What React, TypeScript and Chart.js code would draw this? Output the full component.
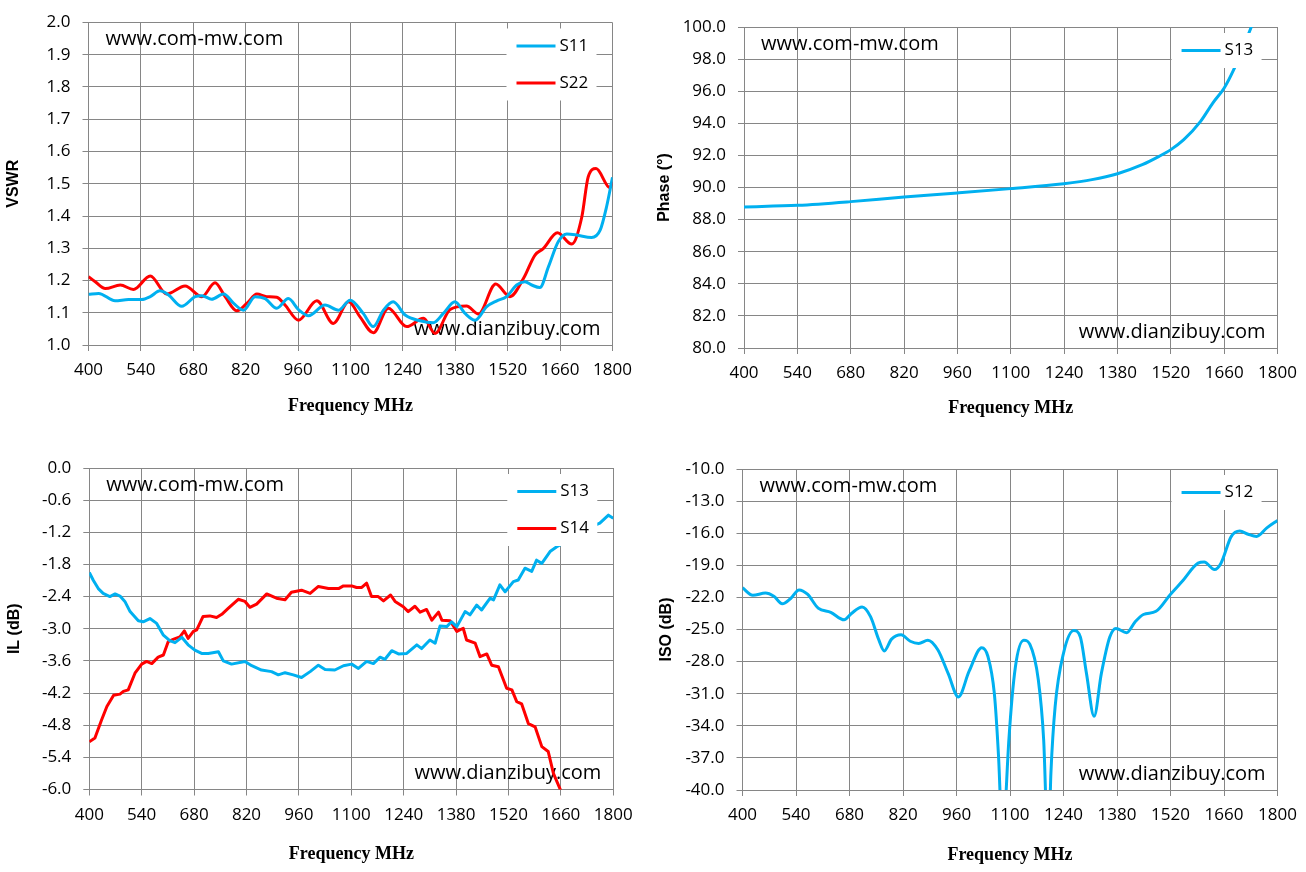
import React, { useEffect, useRef } from 'react';
import { Chart, registerables } from 'chart.js';

Chart.register(...registerables);
Chart.defaults.color = '#000';
Chart.defaults.font.family = "'Open Sans', sans-serif";

// ---- data (MHz / value) ----
const freqTicks = [400, 540, 680, 820, 960, 1100, 1240, 1380, 1520, 1660, 1800];

const vswrTicks = [1.0, 1.1, 1.2, 1.3, 1.4, 1.5, 1.6, 1.7, 1.8, 1.9, 2.0];
const phaseTicks = [80, 82, 84, 86, 88, 90, 92, 94, 96, 98, 100];
const ilTicks = [-6.0, -5.4, -4.8, -4.2, -3.6, -3.0, -2.4, -1.8, -1.2, -0.6, 0.0];
const isoTicks = [-40, -37, -34, -31, -28, -25, -22, -19, -16, -13, -10];

// VSWR S11
const s11Freq = [400, 427, 471, 507, 542, 565, 591, 614, 649, 685, 703, 729, 761, 788, 814, 845, 872, 903, 934, 961,
  988, 1032, 1068, 1099, 1134, 1161, 1188, 1214, 1246, 1286, 1321, 1348, 1379, 1406, 1433, 1464, 1491, 1517, 1544, 1566,
  1584, 1606, 1629, 1655, 1678, 1704, 1744, 1767, 1784, 1800];
const s11Vswr = [1.157, 1.16, 1.137, 1.141, 1.141, 1.15, 1.168, 1.155, 1.12, 1.15, 1.153, 1.142, 1.158, 1.129, 1.108, 1.15, 1.144, 1.114, 1.144, 1.11,
  1.091, 1.124, 1.108, 1.139, 1.098, 1.057, 1.108, 1.134, 1.093, 1.075, 1.069, 1.098, 1.134, 1.098, 1.077, 1.119, 1.137, 1.15, 1.186, 1.196,
  1.186, 1.178, 1.243, 1.32, 1.344, 1.341, 1.333, 1.356, 1.428, 1.52];

// VSWR S22
const s22Freq = [400, 418, 445, 485, 520, 565, 609, 658, 703, 738, 765, 796, 823, 850, 876, 903, 925, 961, 1010, 1054,
  1095, 1125, 1161, 1201, 1250, 1295, 1326, 1366, 1410, 1442, 1488, 1526, 1562, 1593, 1615, 1653, 1691, 1718, 1735, 1756,
  1793, 1800];
const s22Vswr = [1.212, 1.196, 1.175, 1.186, 1.172, 1.214, 1.158, 1.183, 1.15, 1.193, 1.15, 1.106, 1.129, 1.158, 1.15, 1.148, 1.124, 1.077, 1.137, 1.067,
  1.134, 1.088, 1.038, 1.114, 1.057, 1.083, 1.036, 1.11, 1.121, 1.096, 1.189, 1.15, 1.206, 1.279, 1.299, 1.348, 1.313, 1.397, 1.521, 1.547,
  1.488, 1.506];

// Phase S13
const phaseFreq = [400, 541, 680, 820, 960, 1100, 1239, 1313, 1380, 1445, 1489, 1520, 1554, 1598, 1630, 1660, 1685, 1707, 1729, 1750];
const phaseS13 = [88.79, 88.89, 89.12, 89.41, 89.66, 89.93, 90.24, 90.49, 90.86, 91.42, 91.94, 92.36, 92.98, 94.12, 95.26, 96.2, 97.34, 98.59, 99.88, 101.2];

// IL S13
const ilS13Freq = [400, 411, 424, 437, 455, 469, 482, 495, 509, 531,
  544, 562, 580, 598, 615, 629, 647, 664, 682, 700,
  718, 745, 758, 780, 816, 834, 860, 887, 905, 923,
  945, 967, 990, 1012, 1030, 1056, 1079, 1101, 1119, 1141,
  1159, 1177, 1190, 1208, 1226, 1248, 1275, 1288, 1310, 1324,
  1337, 1355, 1368, 1382, 1404, 1417, 1435, 1448, 1471, 1480,
  1497, 1511, 1533, 1546, 1564, 1582, 1595, 1609, 1631, 1649,
  1680, 1710, 1740, 1764, 1787, 1800];
const ilS13 = [-1.95, -2.10, -2.25, -2.34, -2.40, -2.35, -2.39, -2.49, -2.68, -2.85,
  -2.87, -2.81, -2.90, -3.12, -3.22, -3.26, -3.16, -3.30, -3.40, -3.46,
  -3.46, -3.43, -3.60, -3.66, -3.61, -3.69, -3.77, -3.80, -3.86, -3.82,
  -3.86, -3.91, -3.80, -3.68, -3.76, -3.77, -3.69, -3.66, -3.74, -3.61,
  -3.65, -3.53, -3.57, -3.41, -3.47, -3.46, -3.30, -3.37, -3.21, -3.27,
  -2.95, -2.96, -2.87, -2.96, -2.68, -2.74, -2.56, -2.65, -2.43, -2.46,
  -2.18, -2.31, -2.12, -2.09, -1.87, -1.93, -1.72, -1.78, -1.56, -1.47,
  -1.35, -1.22, -1.10, -1.03, -0.88, -0.94];

// IL S14
const ilS14Freq = [400, 415, 433, 447, 465, 482, 491, 504, 522, 540,
  553, 567, 584, 598, 611, 624, 642, 654, 664, 678,
  687, 704, 722, 740, 754, 771, 798, 816, 829, 847,
  874, 900, 923, 940, 967, 990, 1012, 1039, 1066, 1079,
  1101, 1114, 1128, 1141, 1154, 1172, 1186, 1205, 1217, 1239,
  1252, 1270, 1284, 1301, 1315, 1333, 1342, 1364, 1382, 1399,
  1408, 1431, 1444, 1462, 1475, 1493, 1515, 1529, 1542, 1555,
  1573, 1591, 1609, 1626, 1640, 1659, 1668];
const ilS14 = [-5.11, -5.04, -4.70, -4.45, -4.24, -4.22, -4.17, -4.14, -3.83, -3.66,
  -3.61, -3.65, -3.53, -3.49, -3.24, -3.20, -3.15, -3.04, -3.18, -3.05,
  -3.02, -2.77, -2.76, -2.79, -2.73, -2.62, -2.45, -2.49, -2.60, -2.54,
  -2.35, -2.43, -2.46, -2.32, -2.28, -2.34, -2.21, -2.25, -2.25, -2.20,
  -2.20, -2.23, -2.23, -2.15, -2.40, -2.40, -2.48, -2.37, -2.49, -2.59,
  -2.68, -2.58, -2.69, -2.64, -2.84, -2.69, -2.84, -2.85, -3.05, -2.99,
  -3.21, -3.27, -3.52, -3.47, -3.68, -3.71, -4.11, -4.14, -4.36, -4.40,
  -4.77, -4.83, -5.20, -5.29, -5.70, -6.01, -6.30];

// ISO S12
const isoFreq = [400, 427, 460, 482, 504, 526, 548, 570, 598, 631,
  666, 685, 713, 735, 757, 771, 790, 815, 839, 861,
  885, 911, 938, 965, 993, 1026, 1042, 1059, 1070, 1082,
  1090, 1097, 1114, 1136, 1152, 1174, 1188, 1200, 1207, 1218,
  1240, 1267, 1284, 1300, 1320, 1339, 1361, 1377, 1405, 1427,
  1449, 1482, 1520, 1553, 1592, 1608, 1635, 1652, 1679, 1701,
  1723, 1745, 1772, 1800];
const isoS12 = [-21.1, -21.8, -21.6, -21.9, -22.6, -22.1, -21.3, -21.7, -23.0, -23.4,
  -24.1, -23.5, -22.9, -23.8, -26.0, -27.0, -25.9, -25.5, -26.1, -26.3,
  -26.0, -26.9, -29.1, -31.3, -28.9, -26.7, -27.5, -31.0, -36.9, -46.0,
  -40.0, -35.3, -28.5, -26.0, -26.4, -29.7, -35.3, -46.0, -38.4, -32.2,
  -27.2, -25.1, -25.7, -29.1, -33.1, -29.1, -25.7, -24.9, -25.3, -24.3,
  -23.6, -23.3, -21.7, -20.4, -18.8, -18.7, -19.4, -18.8, -16.3, -15.8,
  -16.1, -16.3, -15.5, -14.8];

const BLUE = '#00B0F0';
const RED = '#FF0000';
const GRID = '#868686';
const PANEL_W = 653;
const PANEL_H = 436;

interface Series { label: string; color: string; freq: number[]; values: number[]; smooth: boolean }
interface PanelSpec {
  left: number; top: number;
  area: { left: number; top: number; right: number; bottom: number };
  yTicks: number[]; yTitle: string; yTitleX: number; xTitleY: number;
  series: Series[];
}

const panels: PanelSpec[] = [
  {
    left: 0, top: 0, area: { left: 88.5, top: 22.5, right: 612.5, bottom: 345 },
    yTicks: vswrTicks, yTitle: 'VSWR', yTitleX: 14, xTitleY: 406,
    series: [
      { label: 'S11', color: BLUE, freq: s11Freq, values: s11Vswr, smooth: true },
      { label: 'S22', color: RED, freq: s22Freq, values: s22Vswr, smooth: true },
    ],
  },
  {
    left: 653, top: 0, area: { left: 91, top: 27, right: 626, bottom: 348 },
    yTicks: phaseTicks, yTitle: 'Phase (°)', yTitleX: 12, xTitleY: 408,
    series: [{ label: 'S13', color: BLUE, freq: phaseFreq, values: phaseS13, smooth: true }],
  },
  {
    left: 0, top: 436, area: { left: 89.3, top: 32, right: 613.3, bottom: 353.5 },
    yTicks: ilTicks, yTitle: 'IL (dB)', yTitleX: 15, xTitleY: 418,
    series: [
      { label: 'S13', color: BLUE, freq: ilS13Freq, values: ilS13, smooth: false },
      { label: 'S14', color: RED, freq: ilS14Freq, values: ilS14, smooth: false },
    ],
  },
  {
    left: 653, top: 436, area: { left: 89.5, top: 33, right: 625.7, bottom: 354 },
    yTicks: isoTicks, yTitle: 'ISO (dB)', yTitleX: 14, xTitleY: 419,
    series: [{ label: 'S12', color: BLUE, freq: isoFreq, values: isoS12, smooth: true }],
  },
];

const Panel = ({ spec }: { spec: PanelSpec }) => {
  const canvasRef = useRef<HTMLCanvasElement>(null);

  useEffect(() => {
    const canvas = canvasRef.current;
    if (!canvas) return;
    const { area } = spec;
    const xTitleSize = 18;
    const xScaleBottom = spec.xTitleY + (xTitleSize * 1.2) / 2;

    // watermarks under the lines, legend box on top of them
    const overlay = {
      id: 'overlay',
      beforeDatasetsDraw(chart: any) {
        const { ctx, chartArea } = chart;
        ctx.save();
        ctx.fillStyle = '#000';
        ctx.font = "20px 'Open Sans', sans-serif";
        ctx.textBaseline = 'middle';
        ctx.textAlign = 'left';
        ctx.fillText('www.com-mw.com', chartArea.left + 17, chartArea.top + 17);
        ctx.textAlign = 'right';
        ctx.fillText('www.dianzibuy.com', chartArea.right - 12, chartArea.bottom - 16);
        ctx.restore();
      },
      afterDatasetsDraw(chart: any) {
        const { ctx, chartArea } = chart;
        const n = spec.series.length;
        const boxR = chartArea.right - 16;
        const boxL = boxR - 90;
        const boxT = chartArea.top + 6;
        ctx.save();
        ctx.fillStyle = '#fff';
        ctx.fillRect(boxL, boxT, boxR - boxL, 35 + 37 * (n - 1));
        spec.series.forEach((s, i) => {
          const y = boxT + 17.5 + 37 * i;
          ctx.strokeStyle = s.color;
          ctx.lineWidth = 3;
          ctx.beginPath();
          ctx.moveTo(boxL + 10, y);
          ctx.lineTo(boxL + 49, y);
          ctx.stroke();
          ctx.fillStyle = '#000';
          ctx.font = "17px 'Open Sans', sans-serif";
          ctx.textAlign = 'left';
          ctx.textBaseline = 'middle';
          ctx.fillText(s.label, boxL + 53, y);
        });
        ctx.restore();
      },
    };

    const yMin = Math.min(...spec.yTicks);
    const yMax = Math.max(...spec.yTicks);

    const chart = new Chart(canvas, {
      type: 'line',
      data: {
        datasets: spec.series.map((s) => ({
          label: s.label,
          data: s.freq.map((f, i) => ({ x: f, y: s.values[i] })),
          borderColor: s.color,
          backgroundColor: s.color,
          borderWidth: 3,
          pointRadius: 0,
          fill: false,
          borderJoinStyle: 'round' as const,
          tension: s.smooth ? 0.4 : 0,
          cubicInterpolationMode: s.smooth ? ('monotone' as const) : ('default' as const),
        })),
      },
      options: {
        responsive: false,
        animation: false,
        events: [],
        layout: {
          padding: { left: 0, top: area.top, right: PANEL_W - area.right, bottom: PANEL_H - xScaleBottom },
        },
        plugins: { legend: { display: false }, tooltip: { enabled: false } },
        scales: {
          x: {
            type: 'linear',
            min: 400,
            max: 1800,
            afterBuildTicks: (scale: any) => { scale.ticks = freqTicks.map((v) => ({ value: v })); },
            afterFit: (scale: any) => { scale.height = xScaleBottom - area.bottom; },
            ticks: { autoSkip: false, maxRotation: 0, padding: 9, font: { size: 17 }, callback: (v: any) => String(v) },
            grid: { color: GRID, tickColor: GRID, tickLength: 6, lineWidth: 1 },
            border: { color: GRID, width: 1 },
            title: {
              display: true, text: 'Frequency MHz', padding: 0,
              font: { family: "'Liberation Serif', serif", size: xTitleSize, weight: 'bold' },
            },
          },
          y: {
            type: 'linear',
            min: yMin,
            max: yMax,
            afterBuildTicks: (scale: any) => { scale.ticks = spec.yTicks.map((v) => ({ value: v })); },
            afterFit: (scale: any) => { scale.width = area.left; },
            ticks: { padding: 12, font: { size: 17 }, callback: (v: any) => Number(v).toFixed(1) },
            grid: { color: GRID, tickColor: GRID, tickLength: 6, lineWidth: 1 },
            border: { color: GRID, width: 1 },
            title: {
              display: true, text: spec.yTitle, padding: { top: spec.yTitleX - 9.6, bottom: 0 },
              font: { family: "'Liberation Sans', Arial, sans-serif", size: 16, weight: 'bold' },
            },
          },
        },
      },
      plugins: [overlay],
    });

    return () => chart.destroy();
  }, [spec]);

  return (
    <canvas
      ref={canvasRef}
      width={PANEL_W}
      height={PANEL_H}
      style={{ position: 'absolute', left: spec.left, top: spec.top, width: PANEL_W, height: PANEL_H }}
    />
  );
};

const App = () => (
  <div style={{ position: 'absolute', left: 0, top: 0, width: 1306, height: 872, background: '#fff' }}>
    {panels.map((p, i) => <Panel key={i} spec={p} />)}
  </div>
);

export default App;
